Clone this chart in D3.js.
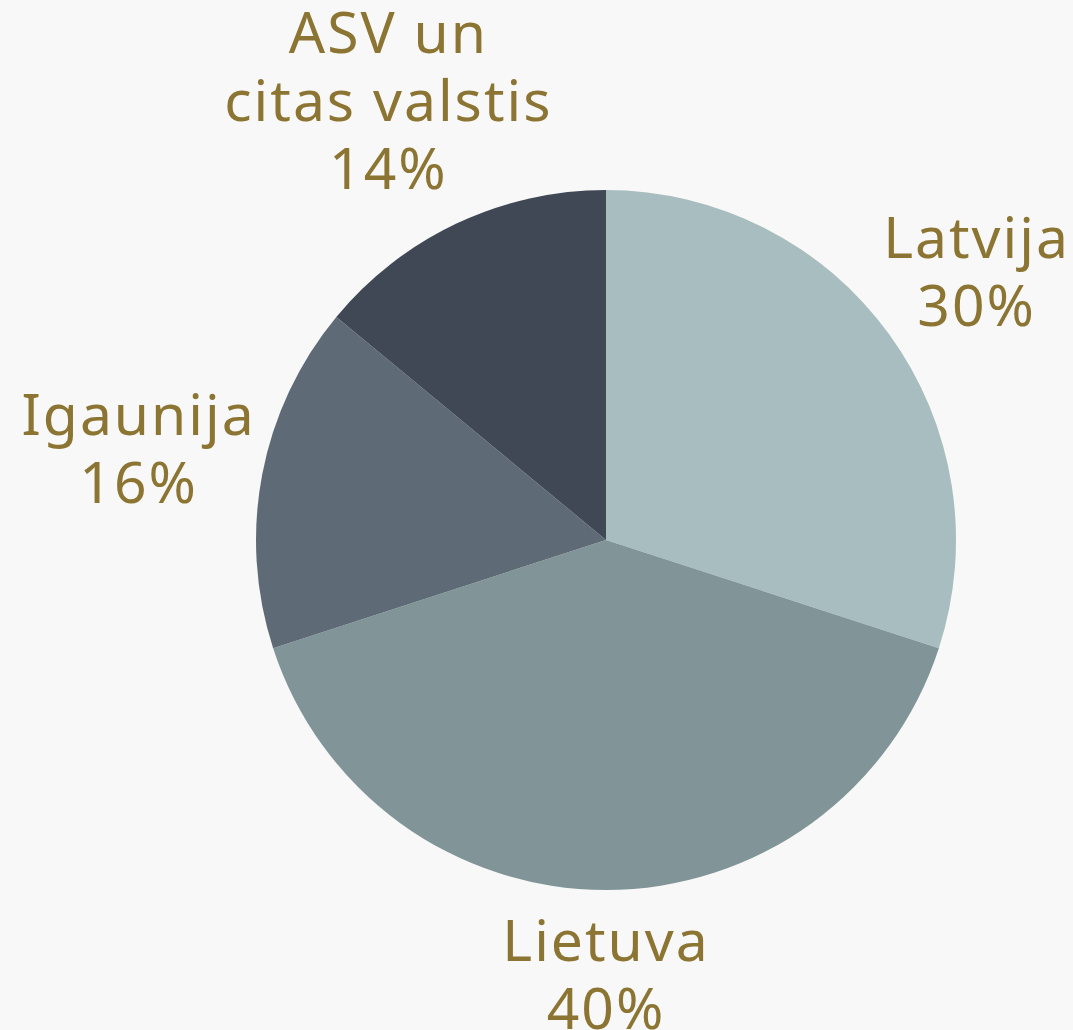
<!DOCTYPE html>
<html lang="lv">
<head>
<meta charset="UTF-8">
<title>Pie</title>
<script src="https://d3js.org/d3.v7.min.js"></script>
<style>
    body, html { margin: 0; padding: 0; background: #f8f8f8; overflow: hidden; }
    svg { display: block; }
    .lbl { font-family: 'Noto Sans', sans-serif; font-size: 57px; fill: #8c7533; letter-spacing: 2px; }
</style>
</head>
<body>
<svg id="chart" width="1073" height="1030"></svg>
<script>
// data
const categories = ["Latvija", "Lietuva", "Igaunija", "ASV un citas valstis"];
const labelLines = [["Latvija"], ["Lietuva"], ["Igaunija"], ["ASV un", "citas valstis"]];
const shares = [30, 40, 16, 14];
const colors = ["#a8bdbf", "#819599", "#5e6b76", "#404856"];

const W = 1073, H = 1030;
const cx = 606, cy = 540, radius = 350;
const fontSize = 57, capH = fontSize * 0.714, lineH = 68;

const svg = d3.select("#chart");
svg.append("rect").attr("width", W).attr("height", H).attr("fill", "#f8f8f8");

const g = svg.append("g").attr("transform", `translate(${cx},${cy})`);

const pie = d3.pie().sort(null).value(d => d)(shares);
const arc = d3.arc().innerRadius(0).outerRadius(radius);

g.selectAll("path.slice")
    .data(pie)
    .join("path")
    .attr("class", "slice")
    .attr("d", arc)
    .attr("fill", (d, i) => colors[i]);

// labels: visual text block (cap top to last baseline) pushed out from the pie
const labelR = 388;
pie.forEach((d, i) => {
    const lines = labelLines[i].concat([shares[i] + "%"]);
    const t = g.append("text").attr("class", "lbl").attr("text-anchor", "middle");
    lines.forEach((s, k) => {
        t.append("tspan").attr("x", 0).attr("y", k * lineH).text(s);
    });
    const w = t.node().getBBox().width;
    const h = (lines.length - 1) * lineH + capH;
    const a = (d.startAngle + d.endAngle) / 2;
    const ux = Math.sin(a), uy = -Math.cos(a);
    const mx = ux * (labelR + 0.75 * w / 2);
    const my = uy * (labelR + h / 2) - 8;
    t.attr("transform", `translate(${mx},${my - h / 2 + capH})`);
});
</script>
</body>
</html>
